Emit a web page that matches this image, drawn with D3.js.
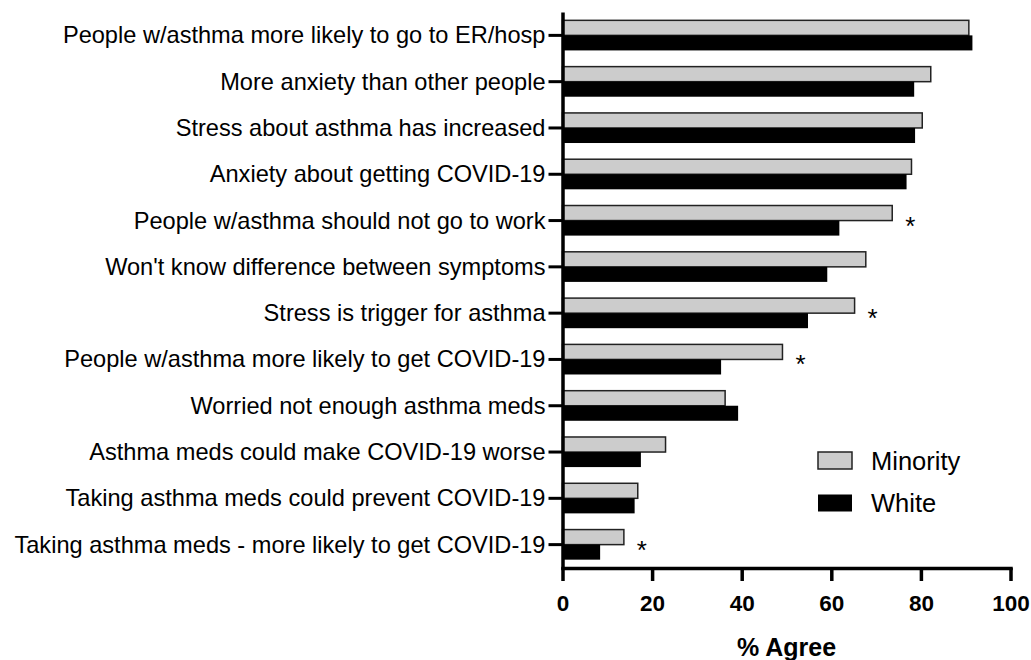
<!DOCTYPE html>
<html>
<head>
<meta charset="utf-8">
<script src="https://cdn.jsdelivr.net/npm/d3@7"></script>
<style>
  html, body { margin: 0; padding: 0; background: #fff; }
  svg { display: block; font-family: "Liberation Sans", Arial, Helvetica, sans-serif; }
</style>
</head>
<body>
<svg id="chart" width="1031" height="660"></svg>
<script>
// Survey items, top to bottom
const categories = [
  "People w/asthma more likely to go to ER/hosp",
  "More anxiety than other people",
  "Stress about asthma has increased",
  "Anxiety about getting COVID-19",
  "People w/asthma should not go to work",
  "Won't know difference between symptoms",
  "Stress is trigger for asthma",
  "People w/asthma more likely to get COVID-19",
  "Worried not enough asthma meds",
  "Asthma meds could make COVID-19 worse",
  "Taking asthma meds could prevent COVID-19",
  "Taking asthma meds - more likely to get COVID-19"
];
// % agree by group
const minority = [90.7, 82.2, 80.3, 77.9, 73.6, 67.7, 65.2, 49.1, 36.3, 23.0, 16.8, 13.7];
const white    = [91.5, 78.5, 78.7, 76.8, 61.8, 59.1, 54.8, 35.4, 39.2, 17.5, 16.1, 8.4];
// Items with a significant group difference (marked with *)
const significant = [false, false, false, false, true, false, true, true, false, false, false, true];
const seriesNames = ["Minority", "White"];
const xTicks = [0, 20, 40, 60, 80, 100];

const seriesFill = { Minority: "#cccccc", White: "#000000" };

const rows = categories.map((c, i) => ({
  category: c,
  Minority: minority[i],
  White: white[i],
  sig: significant[i]
}));

const svg = d3.select("#chart");

const x = d3.scaleLinear().domain([0, 100]).range([562.5, 1010.5]);
const y = d3.scaleBand().domain(categories).range([12, 568])
  .paddingInner(0.35).paddingOuter(0.18);
const ySub = d3.scaleBand().domain(seriesNames).range([0, y.bandwidth()]);

// Bars
const groups = svg.append("g").selectAll("g")
  .data(rows).join("g")
  .attr("transform", d => `translate(0,${y(d.category)})`);

groups.selectAll("rect")
  .data(d => seriesNames.map(s => ({ s, v: d[s] })))
  .join("rect")
  .attr("x", x(0))
  .attr("y", d => ySub(d.s))
  .attr("width", d => x(d.v) - x(0))
  .attr("height", ySub.bandwidth())
  .attr("fill", d => seriesFill[d.s])
  .attr("stroke", d => d.s === "Minority" ? "#222" : "none")
  .attr("stroke-width", 1.5);

// Significance markers
svg.append("g").selectAll("text")
  .data(rows.filter(d => d.sig))
  .join("text")
  .attr("x", d => x(d.Minority) + 18)
  .attr("y", d => y(d.category) + y.bandwidth() / 2 + 14)
  .attr("text-anchor", "middle")
  .attr("font-size", 26)
  .attr("fill", "#000")
  .text("*");

// Y axis
const yAxis = svg.append("g")
  .attr("transform", `translate(${x(0)},0)`)
  .call(d3.axisLeft(y).tickSize(14).tickSizeOuter(0).tickPadding(3));
yAxis.select(".domain").attr("stroke", "#000").attr("stroke-width", 3.5);
yAxis.selectAll(".tick line").attr("stroke", "#000").attr("stroke-width", 3);
yAxis.selectAll(".tick text")
  .attr("font-size", 23.6)
  .attr("font-family", "'Liberation Sans', Arial, sans-serif")
  .attr("fill", "#000")
  .attr("dy", "0.34em");

// X axis
const xAxis = svg.append("g")
  .attr("transform", `translate(0,568)`)
  .call(d3.axisBottom(x).tickValues(xTicks).tickSize(13).tickSizeOuter(0).tickPadding(14));
xAxis.select(".domain").attr("stroke", "#000").attr("stroke-width", 3.5)
  .attr("stroke-linecap", "square");
xAxis.selectAll(".tick line").attr("stroke", "#000").attr("stroke-width", 3.5);
xAxis.selectAll(".tick text")
  .attr("font-size", 22.5)
  .attr("font-weight", "bold")
  .attr("font-family", "'Liberation Sans', Arial, sans-serif")
  .attr("fill", "#000");

// X axis title
svg.append("text")
  .attr("x", (x(0) + x(100)) / 2)
  .attr("y", 656)
  .attr("text-anchor", "middle")
  .attr("font-size", 25)
  .attr("font-weight", "bold")
  .attr("fill", "#000")
  .text("% Agree");

// Legend
const legend = svg.append("g").attr("transform", "translate(818,452)");
const li = legend.selectAll("g").data(seriesNames).join("g")
  .attr("transform", (d, i) => `translate(0,${i * 42.5})`);
li.append("rect")
  .attr("width", 34).attr("height", 17)
  .attr("fill", d => seriesFill[d])
  .attr("stroke", d => d === "Minority" ? "#222" : "none")
  .attr("stroke-width", 1.5);
li.append("text")
  .attr("x", 53).attr("y", 17.5)
  .attr("font-size", 25.5)
  .attr("fill", "#000")
  .text(d => d);
</script>
</body>
</html>
